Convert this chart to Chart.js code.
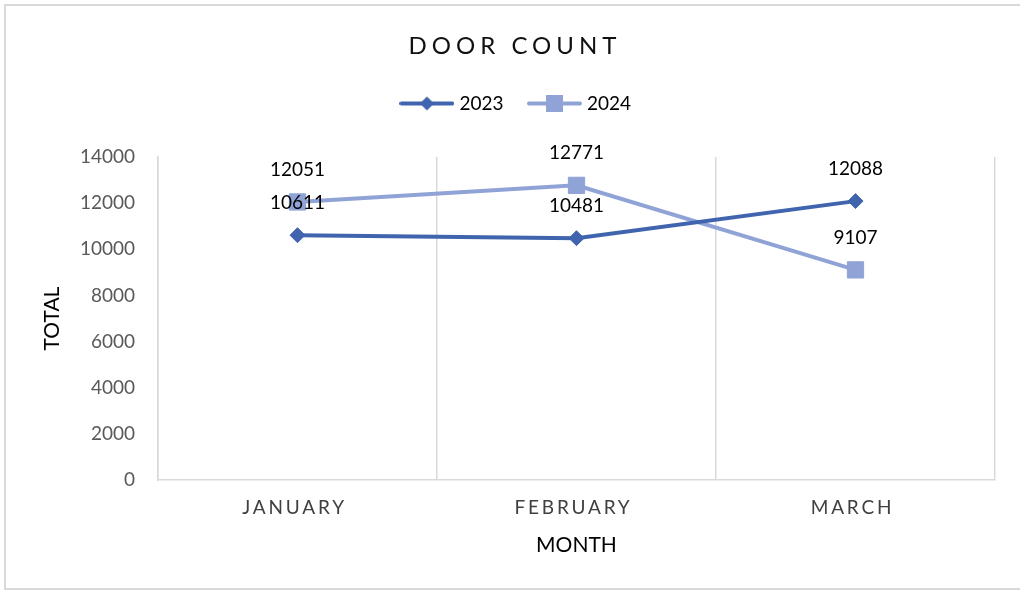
<!DOCTYPE html>
<html>
<head>
<meta charset="utf-8">
<script src="https://cdn.jsdelivr.net/npm/chart.js@4.4.1/dist/chart.umd.min.js"></script>
<style>
  html, body { margin: 0; padding: 0; background: #fff; }
  #wrap { position: relative; width: 1020px; height: 591px; overflow: hidden; }
  #frame { position: absolute; left: 4px; top: 4px; width: 1040px; height: 586px;
           box-sizing: border-box; border: 2px solid #d9d9d9; pointer-events: none; }
</style>
</head>
<body>
<div id="wrap">
  <canvas id="chartDoor" width="1020" height="591"></canvas>
  <div id="frame"></div>
</div>
<script>
// Dados do gráfico
var months = ['JANUARY', 'FEBRUARY', 'MARCH'];
var count2023 = [10611, 10481, 12088];
var count2024 = [12051, 12771, 9107];
var yTicks = [0, 2000, 4000, 6000, 8000, 10000, 12000, 14000];

var color2023 = '#4064ad';
var color2024 = '#8fa3d6';

Chart.defaults.font.family = 'Lato';

// Ícone da legenda: linha com o marcador no meio
function legendIcon(color, shape) {
    var c = document.createElement('canvas');
    c.width = 55;
    c.height = 19;
    var g = c.getContext('2d');
    g.strokeStyle = color;
    g.fillStyle = color;
    g.lineWidth = 4;
    g.lineCap = 'round';
    g.beginPath();
    g.moveTo(2, 9.5);
    g.lineTo(53, 9.5);
    g.stroke();
    g.beginPath();
    if (shape === 'diamond') {
        g.moveTo(27.5, 2.5);
        g.lineTo(34.5, 9.5);
        g.lineTo(27.5, 16.5);
        g.lineTo(20.5, 9.5);
    } else {
        g.rect(19, 1, 17, 17);
    }
    g.closePath();
    g.fill();
    return c;
}
var legendIcons = [legendIcon(color2023, 'diamond'), legendIcon(color2024, 'square')];

// Espaço extra abaixo da legenda
var legendSpace = {
    id: 'legendSpace',
    beforeInit: function (chart) {
        var fit = chart.legend.fit;
        chart.legend.fit = function () {
            fit.call(this);
            this.height += 34;
        };
    }
};

// Textos: rótulos de dados, título e meses com espaçamento
var textPlugin = {
    id: 'textPlugin',
    afterDatasetsDraw: function (chart) {
        var ctx = chart.ctx;
        ctx.save();
        ctx.font = '19px Lato';
        ctx.fillStyle = '#000';
        ctx.textAlign = 'center';
        ctx.textBaseline = 'middle';
        chart.data.datasets.forEach(function (ds, i) {
            chart.getDatasetMeta(i).data.forEach(function (pt, j) {
                ctx.fillText(String(ds.data[j]), pt.x, pt.y - 32);
            });
        });
        ctx.restore();
    },
    afterDraw: function (chart) {
        var ctx = chart.ctx;
        var xs = chart.scales.x;
        ctx.save();
        ctx.textAlign = 'center';
        ctx.textBaseline = 'middle';

        ctx.font = '24px Lato';
        ctx.fillStyle = '#111';
        ctx.letterSpacing = '5px';
        ctx.fillText('DOOR COUNT', chart.width / 2 + 5, 46);

        ctx.font = '19px Lato';
        ctx.fillStyle = '#404040';
        ctx.letterSpacing = '2.8px';
        months.forEach(function (m, i) {
            ctx.fillText(m, xs.getPixelForTick(i) - 3, xs.top + 27.5);
        });
        ctx.restore();
    }
};

var ctxDoor = document.getElementById('chartDoor').getContext('2d');
var chartDoor = new Chart(ctxDoor, {
    type: 'line',
    data: {
        labels: months,
        datasets: [{
            label: '2023',
            data: count2023,
            borderColor: color2023,
            backgroundColor: color2023,
            borderWidth: 4,
            pointStyle: 'rectRot',
            pointRadius: 7.5,
            pointBorderWidth: 1,
            pointHoverRadius: 7.5
        }, {
            label: '2024',
            data: count2024,
            borderColor: color2024,
            backgroundColor: color2024,
            borderWidth: 4,
            pointStyle: 'rect',
            pointRadius: 11.5,
            pointBorderWidth: 1,
            pointHoverRadius: 11.5
        }]
    },
    options: {
        responsive: false,
        animation: false,
        layout: { padding: { top: 66, left: 40, right: 25, bottom: 10 } },
        plugins: {
            title: { display: false },
            tooltip: { enabled: false },
            legend: {
                position: 'top',
                labels: {
                    usePointStyle: true,
                    pointStyleWidth: 46,
                    padding: 28,
                    color: '#000',
                    font: { size: 19 },
                    generateLabels: function (chart) {
                        var items = Chart.defaults.plugins.legend.labels.generateLabels(chart);
                        items.forEach(function (it, i) { it.pointStyle = legendIcons[i]; });
                        return items;
                    }
                }
            }
        },
        scales: {
            x: {
                offset: true,
                grid: { offset: true, color: '#d9d9d9', lineWidth: 1.5, drawTicks: false },
                border: { color: '#d9d9d9', width: 1.5 },
                ticks: { display: false },
                title: { display: true, text: 'MONTH', color: '#000', font: { size: 21 }, padding: { top: 0, bottom: 23 } },
                afterFit: function (scale) { scale.height = 101; }
            },
            y: {
                min: yTicks[0],
                max: yTicks[yTicks.length - 1],
                afterBuildTicks: function (scale) {
                    scale.ticks = yTicks.map(function (v) { return { value: v }; });
                },
                grid: { display: false, drawTicks: false },
                border: { color: '#d9d9d9', width: 1.5 },
                ticks: {
                    color: '#595959',
                    font: { size: 19 },
                    padding: 23,
                    callback: function (value) { return String(value); }
                },
                title: { display: true, text: 'TOTAL', color: '#000', font: { size: 21 }, padding: { top: 0, bottom: 0 } },
                afterFit: function (scale) { scale.width = 118; }
            }
        }
    },
    plugins: [legendSpace, textPlugin]
});
</script>
</body>
</html>
